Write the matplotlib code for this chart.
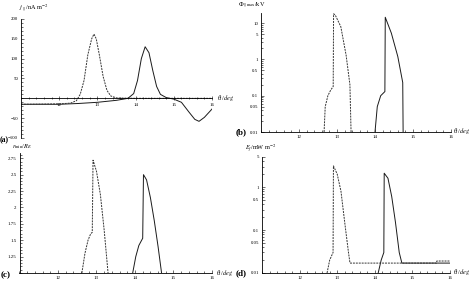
import numpy as np
import matplotlib
matplotlib.use("Agg")
import matplotlib.pyplot as plt
from matplotlib.ticker import FixedLocator, MultipleLocator, NullFormatter, LogLocator

plt.rcParams['font.family'] = ['Liberation Serif', 'DejaVu Serif']
plt.rcParams['mathtext.fontset'] = 'stix'

# (a) field-aligned current
th_a_dash = [11.0, 12.0, 12.3, 12.45, 12.55, 12.65, 12.75, 12.85, 12.91, 12.97, 13.05, 13.15, 13.25, 13.35, 13.5, 14.0, 16.0]
j_a_dash = [-15, -14, -12, -6, 10, 45, 110, 150, 162, 150, 110, 55, 20, 6, 1, 0, 0]
th_a_sol = [11.0, 12.0, 12.5, 13.0, 13.5, 13.8, 13.95, 14.05, 14.15, 14.25, 14.35, 14.45, 14.55, 14.65, 14.8, 15.0, 15.2, 15.4, 15.55, 15.66, 15.8, 16.0]
j_a_sol = [-15, -15, -13, -10, -5, 0, 12, 45, 100, 130, 115, 70, 30, 10, 2, -2, -10, -35, -53, -58, -48, -27]

# (b) max field-aligned potential
th_b_dash = [12.66, 12.69, 12.76, 12.83, 12.9, 12.91, 12.95, 13.1, 13.24, 13.34, 13.37]
phi_b_dash = [0.01, 0.05, 0.1, 0.14, 0.18, 18, 17, 8, 1.3, 0.2, 0.01]
th_b_sol = [14.0, 14.06, 14.15, 14.26, 14.27, 14.43, 14.6, 14.73, 14.74]
phi_b_sol = [0.01, 0.05, 0.1, 0.13, 14.5, 5.3, 1.2, 0.23, 0.01]

# (c) minimum radius
th_c_dash = [12.62, 12.7, 12.78, 12.85, 12.89, 12.91, 13.0, 13.1, 13.2, 13.3]
r_c_dash = [1.0, 1.3, 1.5, 1.6, 1.62, 2.72, 2.55, 2.2, 1.65, 1.0]
th_c_sol = [13.94, 14.02, 14.1, 14.2, 14.22, 14.3, 14.4, 14.5, 14.6, 14.69]
r_c_sol = [1.0, 1.25, 1.42, 1.53, 2.5, 2.42, 2.15, 1.8, 1.4, 1.0]

# (d) energy flux
th_d_dash = [12.73, 12.8, 12.89, 12.9, 13.0, 13.1, 13.2, 13.3, 13.34, 15.64, 15.65, 16.0]
e_d_dash = [0.01, 0.02, 0.03, 3.1, 2.0, 0.8, 0.15, 0.03, 0.017, 0.017, 0.019, 0.019]
th_d_sol = [14.09, 14.17, 14.24, 14.25, 14.35, 14.45, 14.55, 14.65, 14.72, 16.0]
e_d_sol = [0.01, 0.02, 0.03, 2.1, 1.6, 0.6, 0.15, 0.03, 0.017, 0.017]

W, H = 471, 289
fig = plt.figure(figsize=(W / 100, H / 100), dpi=100)


def box(x0, x1, ytop, ybot):
    return [x0 / W, 1 - ybot / H, (x1 - x0) / W, (ybot - ytop) / H]


def ptxt(x, y, s, **kw):
    fig.text(x / W, 1 - y / H, s, **kw)


def style(ax):
    for s in ['top', 'right']:
        ax.spines[s].set_visible(False)
    for s in ['left', 'bottom']:
        ax.spines[s].set_linewidth(0.6)
    ax.set_xlim(11, 16)
    ax.xaxis.set_major_locator(FixedLocator([12, 13, 14, 15, 16]))
    ax.xaxis.set_minor_locator(MultipleLocator(0.2))
    ax.tick_params(which='both', direction='in', labelsize=3.5, width=0.4, pad=2)
    ax.tick_params(which='major', length=2.5)
    ax.tick_params(which='minor', length=1.3)


dash = dict(color='0.2', lw=0.7, ls=(0, (2, 1)))
sol = dict(color='0.1', lw=0.7)
xlab = r'$\theta_i$/$deg$'

# (a)
ax = fig.add_axes(box(21, 212, 19, 138))
style(ax)
ax.plot(th_a_sol, j_a_sol, **sol)
ax.plot(th_a_dash, j_a_dash, **dash)
ax.set_ylim(-100, 200)
ax.spines['bottom'].set_position(('data', 0))
ax.set_yticks([-100, -50, 50, 100, 150, 200])
ax.set_yticklabels(['\u2212100', '\u221250', '50', '100', '150', '200'])
ax.yaxis.set_minor_locator(MultipleLocator(10))
ax.tick_params(axis='x', which='both', direction='inout')
ptxt(19, 8, r'$j_{\parallel}$/nA m$^{-2}$', fontsize=4.5, va='center')
ptxt(217, 98, xlab, fontsize=4.5, va='center')
ptxt(0, 140, '(a)', fontsize=5.5, fontweight='bold', va='center')

# (b)
ax = fig.add_axes(box(261, 451, 13, 132))
style(ax)
ax.set_yscale('log')
ax.plot(th_b_sol, phi_b_sol, **sol)
ax.plot(th_b_dash, phi_b_dash, **dash)
ax.set_ylim(0.01, 19)
ax.yaxis.set_major_locator(FixedLocator([0.01, 0.05, 0.1, 0.5, 1, 5, 10]))
ax.set_yticklabels(['0.01', '0.05', '0.1', '0.5', '1', '5', '10'])
ax.yaxis.set_minor_locator(LogLocator(subs=np.arange(2, 10)))
ax.yaxis.set_minor_formatter(NullFormatter())
ptxt(238, 5, r'$\Phi_{\parallel\mathrm{max}}$/kV', fontsize=4.5, va='center')
ptxt(470, 131, xlab, fontsize=4.5, va='center', ha='right')
ptxt(236, 132, '(b)', fontsize=6.5, fontweight='bold', va='center')

# (c)
ax = fig.add_axes(box(19.5, 212, 153, 273))
style(ax)
ax.plot(th_c_sol, r_c_sol, **sol)
ax.plot(th_c_dash, r_c_dash, **dash)
ax.set_ylim(1.0, 2.83)
ax.set_yticks([1.25, 1.5, 1.75, 2.0, 2.25, 2.5, 2.75])
ax.set_yticklabels(['1.25', '1.5', '1.75', '2', '2.25', '2.5', '2.75'])
ax.yaxis.set_minor_locator(MultipleLocator(0.05))
ptxt(12, 147, r'$r_{\mathrm{min}}$/$R_E$', fontsize=4.5, va='center')
ptxt(216, 273, xlab, fontsize=4.5, va='center')
ptxt(1, 275, '(c)', fontsize=6.5, fontweight='bold', va='center')

# (d)
ax = fig.add_axes(box(262, 450, 157, 273))
style(ax)
ax.set_yscale('log')
ax.plot(th_d_sol, e_d_sol, **sol)
ax.plot(th_d_dash, e_d_dash, **dash)
ax.set_ylim(0.01, 5)
ax.yaxis.set_major_locator(FixedLocator([0.01, 0.05, 0.1, 0.5, 1, 5]))
ax.set_yticklabels(['0.01', '0.05', '0.1', '0.5', '1', '5'])
ax.yaxis.set_minor_locator(LogLocator(subs=np.arange(2, 10)))
ax.yaxis.set_minor_formatter(NullFormatter())
ptxt(245, 148, r'$E_f$/mW m$^{-2}$', fontsize=4.5, va='center')
ptxt(470, 272, xlab, fontsize=4.5, va='center', ha='right')
ptxt(236, 273, '(d)', fontsize=6.5, fontweight='bold', va='center')

fig.savefig('out.png', dpi=100)
